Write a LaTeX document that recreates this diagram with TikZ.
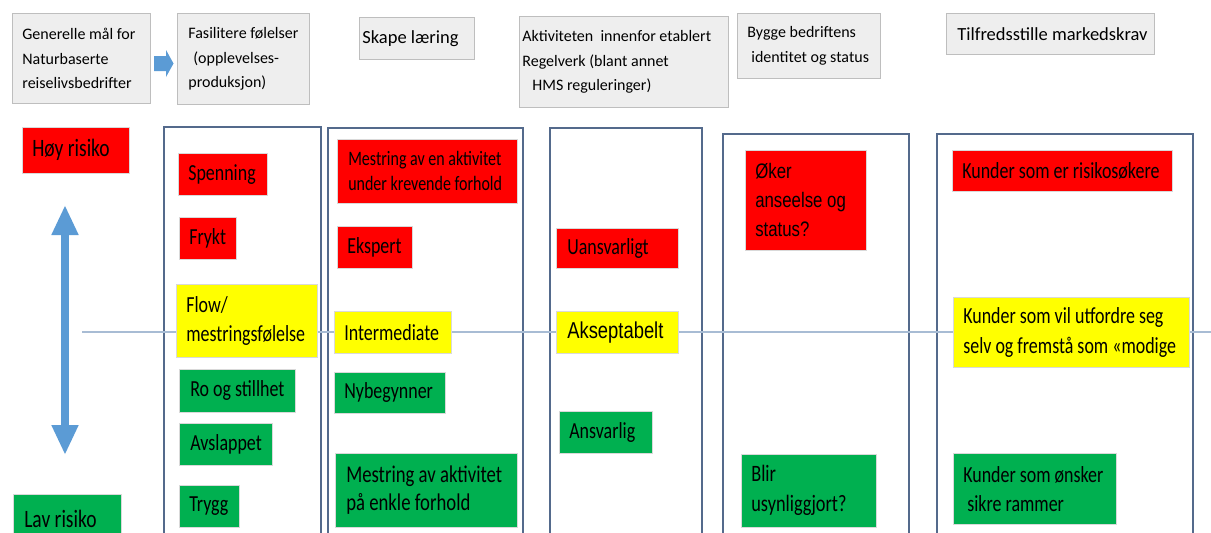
\documentclass[tikz,border=0pt]{standalone}
\usepackage{fontspec}
\setmainfont{Carlito}
\newfontfamily\bodyf{Carlito}[FakeStretch=0.78]
\newfontfamily\arialf{Liberation Sans}[FakeStretch=0.8]
\usetikzlibrary{arrows.meta}
\definecolor{myred}{RGB}{255,0,0}
\definecolor{myyellow}{RGB}{255,255,0}
\definecolor{mygreen}{RGB}{0,176,80}
\definecolor{hdrfill}{RGB}{238,238,238}
\definecolor{hdrline}{RGB}{190,190,190}
\definecolor{colline}{RGB}{84,106,140}
\definecolor{hline}{RGB}{168,188,212}
\definecolor{arrowblue}{RGB}{91,155,213}
\tikzset{
  hdr/.style={draw=hdrline, fill=hdrfill, line width=0.8pt, font=\fontsize{16}{24.5}\selectfont},
  hdrbig/.style={hdr, font=\fontsize{18.5}{24}\selectfont},
  cbox/.style={draw=white!85!black, line width=0.6pt, font=\bodyf\fontsize{23}{29}\selectfont},
  rbox/.style={cbox, fill=myred},
  ybox/.style={cbox, fill=myyellow},
  gbox/.style={cbox, fill=mygreen},
  colbox/.style={draw=colline, line width=1.3pt},
  riskarrow/.style={draw=arrowblue, line width=8pt, {Triangle[width=25pt,length=30pt]}-{Triangle[width=25pt,length=30pt]}},
}
% name, style, x, y, w, h, pad, text
\newcommand\bx[8]{%
  \node[#2, anchor=north west, minimum width=#5pt, minimum height=#6pt, inner sep=0pt] (#1) at (#3,#4) {};
  \node[#2, draw=none, fill=none, anchor=west, align=left, inner sep=0pt] (#1-t) at ([xshift=#7pt]#1.west) {#8};}
\begin{document}
\begin{tikzpicture}[x=1pt,y=-1pt]
\clip (0,0) rectangle (1211,533);
\fill[white] (0,0) rectangle (1211,533);

% header boxes
\bx{h1}{hdr}{12}{13}{138}{90}{10}{Generelle mål for\\Naturbaserte\\reiselivsbedrifter}
\bx{h2}{hdr}{177}{13}{132}{91}{11}{Fasilitere følelser\\\hspace*{5pt}(opplevelses-\\produksjon)}
\bx{h3}{hdrbig}{359}{17}{115}{42}{3}{Skape læring}
\bx{h4}{hdr}{519}{16}{209}{91}{3}{Aktiviteten\ \ innenfor etablert\\Regelverk (blant annet\\\hspace*{10pt}HMS reguleringer)}
\bx{h5}{hdr}{737}{13}{143}{65}{10}{Bygge bedriftens\\\hspace*{4pt}identitet og status}
\bx{h6}{hdrbig}{946}{13}{208}{41}{11}{Tilfredsstille markedskrav}

% block arrow between first headers
\fill[arrowblue] (154,56) -- (166,56) -- (166,50) -- (173.5,63.5) -- (166,77) -- (166,71) -- (154,71) -- cycle;

% columns
\draw[colbox] (164,545) -- (164,127) -- (321,127) -- (321,545);
\draw[colbox] (328,545) -- (328,128) -- (523,128) -- (523,545);
\draw[colbox] (550,545) -- (550,128) -- (702,128) -- (702,545);
\draw[colbox] (723,545) -- (723,134) -- (909,134) -- (909,545);
\draw[colbox] (937,545) -- (937,134) -- (1193,134) -- (1193,545);

% horizontal middle line
\coordinate (hl) at (82,332);
\coordinate (hr) at (1211,332);
\draw[hline, line width=1.6pt] (hl) -- (hr);

% risk axis
\coordinate (atop) at (65,205);
\coordinate (abot) at (65,455);
\draw[riskarrow] (atop) -- (abot);

\bx{hoy}{rbox, font=\bodyf\fontsize{25}{29}\selectfont}{22}{127}{107}{46}{10}{Høy risiko}
\bx{lav}{gbox, font=\bodyf\fontsize{25}{29}\selectfont}{13}{494}{108}{50}{11}{Lav risiko}

% column 1
\bx{spen}{rbox}{178}{153}{89}{42}{10}{Spenning}
\bx{frykt}{rbox}{179}{217}{57}{42}{10}{Frykt}
\bx{flow}{ybox}{176}{284}{141}{73}{10}{Flow/\\mestringsfølelse}
\bx{ro}{gbox}{179}{369}{116}{43}{11}{Ro og stillhet}
\bx{avsl}{gbox}{179}{423}{93}{42}{11}{Avslappet}
\bx{trygg}{gbox}{179}{485}{60}{42}{10}{Trygg}

% column 2
\bx{mestA}{rbox, font=\bodyf\fontsize{20.5}{25}\selectfont}{337}{139}{180}{64}{11}{Mestring av en aktivitet\\under krevende forhold}
\bx{eksp}{rbox}{337}{226}{75}{42}{10}{Ekspert}
\bx{inter}{ybox}{334}{311}{117}{42}{10}{Intermediate}
\bx{nyb}{gbox}{334}{372}{111}{41}{10}{Nybegynner}
\bx{mestB}{gbox, font=\bodyf\fontsize{24}{28}\selectfont}{335}{453}{182}{74}{11}{Mestring av aktivitet\\på enkle forhold}

% column 3
\bx{uans}{rbox}{556}{228}{122}{40}{11}{Uansvarligt}
\bx{aksep}{ybox, font=\arialf\fontsize{23}{28}\selectfont}{556}{311}{122}{42}{11}{Akseptabelt}
\bx{ansv}{gbox}{559}{411}{93}{42}{10}{Ansvarlig}

% column 4
\bx{oker}{rbox, font=\arialf\fontsize{21}{29}\selectfont}{745}{150}{121}{100}{10}{Øker\\anseelse og\\status?}
\bx{blir}{gbox, font=\bodyf\fontsize{23.5}{30}\selectfont}{741}{454}{135}{73}{10}{Blir\\usynliggjort?}

% column 5
\bx{kA}{rbox}{952}{150}{220}{41}{10}{Kunder som er risikosøkere}
\bx{kB}{ybox, font=\bodyf\fontsize{23}{30}\selectfont}{953}{297}{236}{70}{10}{Kunder som vil utfordre seg\\selv og fremstå som «modige}
\bx{kC}{gbox, font=\bodyf\fontsize{23}{29}\selectfont}{953}{453}{163}{71}{10}{Kunder som ønsker\\\hspace*{4pt}sikre rammer}
\end{tikzpicture}
\end{document}
